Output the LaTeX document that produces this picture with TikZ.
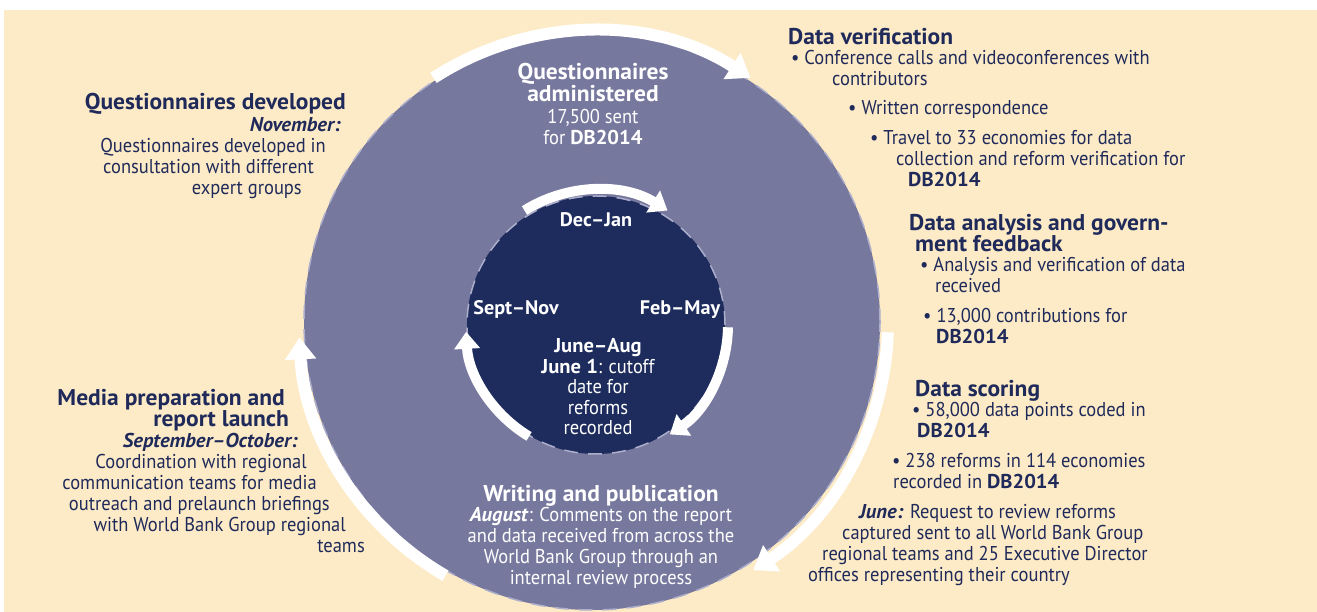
\documentclass[tikz,border=0pt]{standalone}
\usepackage{fontspec}
\setmainfont{PT Sans}[FakeStretch=0.925, BoldFeatures={FakeStretch=1.03}, BoldItalicFeatures={FakeStretch=1.03}]
\usetikzlibrary{arrows.meta}

\definecolor{cream}{RGB}{253,235,199}
\definecolor{ringblue}{RGB}{119,120,158}
\definecolor{coreblue}{RGB}{29,44,92}
\definecolor{inkblue}{RGB}{31,42,90}
\definecolor{rimgray}{RGB}{172,174,204}

% invisible filler at the end of a right-aligned line
\newcommand{\padright}[1]{\rule{#1}{0pt}}

\tikzset{
    head/.style={inner sep=0pt, text=inkblue, font=\bfseries\fontsize{22.8}{21.5}\selectfont},
    body/.style={inner sep=0pt, text=inkblue, font=\fontsize{20}{21}\selectfont},
    month/.style={inner sep=0pt, text=white, font=\fontsize{20}{20.5}\selectfont},
    cycle arrow/.style={white, line width=12pt, -{Triangle[width=30pt,length=22pt]}},
    small arrow/.style={white, line width=10pt, -{Triangle[width=25pt,length=17pt]}},
    rim/.style={rimgray, line width=1.5pt, dash pattern=on 14pt off 10pt},
}

\begin{document}
\begin{tikzpicture}[x=1pt, y=1pt]
    \useasboundingbox (0,0) rectangle (1317,612);
    \fill[white] (0,0) rectangle (1317,612);
    \fill[cream] (4,0) rectangle (1317,602);

    \coordinate (outer) at (592,290);
    \coordinate (inner) at (596,287);

    % the two rings
    \fill[ringblue] (outer) circle[radius=288pt];
    \draw[rim] (outer) circle[radius=288pt];
    \fill[coreblue] (inner) circle[radius=129pt];
    \draw[rim] (inner) circle[radius=129pt];

    % outer cycle
    \draw[cycle arrow] ([shift={(123:291pt)}]outer) arc[start angle=123, end angle=57, radius=291pt];
    \draw[cycle arrow] ([shift={(-2:296pt)}]outer) arc[start angle=-2, end angle=-57, radius=296pt];
    \draw[cycle arrow] ([shift={(240:293pt)}]outer) arc[start angle=240, end angle=183, radius=293pt];

    % inner cycle
    \draw[small arrow] ([shift={(122:135pt)}]inner) arc[start angle=122, end angle=58, radius=135pt];
    \draw[small arrow] ([shift={(-1:132pt)}]inner) arc[start angle=-1, end angle=-56, radius=132pt];
    \draw[small arrow] ([shift={(239:130pt)}]inner) arc[start angle=239, end angle=183, radius=130pt];

    \node[month, anchor=base, font=\bfseries\fontsize{19.6}{20.5}\selectfont] (decjan) at (596,385) {Dec–Jan};
    \node[month, anchor=base, font=\bfseries\fontsize{19.6}{20.5}\selectfont] (septnov) at (516,297) {Sept–Nov};
    \node[month, anchor=base, font=\bfseries\fontsize{19.6}{20.5}\selectfont] (febmay) at (680,297) {Feb–May};
    \node[month, anchor=base, align=center] (juneaug) at (598,177) {\textbf{June–Aug}\\\textbf{June 1}: cutoff\\date for\\reforms\\recorded};

    \node[head, anchor=base east] (qdevhead) at (346,502) {Questionnaires developed};
    \node[body, anchor=base east, align=right] (qdevtext) at (346,417) {\textbf{\textit{November:}}\padright{5pt}\\Questionnaires developed in\padright{20pt}\\consultation with different\padright{32pt}\\expert groups\padright{44pt}};

    \node[head, text=white, anchor=base, align=center, font=\bfseries\fontsize{22.8}{20}\selectfont] (qadmhead) at (593,510) {Questionnaires\\administered};
    \node[body, text=white, anchor=base, align=center] (qadmtext) at (593,467) {17,500 sent\\for \textbf{DB2014}};

    \node[head, anchor=base west] (verhead) at (788,567) {Data verification};
    \node[body, anchor=base west, align=left] (vertext) at (791,425) {\textbullet\ Conference calls and videoconferences with\\\hspace*{41pt}contributors\\[8pt]\hspace*{57pt}\textbullet\ Written correspondence\\[9pt]\hspace*{79pt}\textbullet\ Travel to 33 economies for data\\\hspace*{105pt}collection and reform verification for\\\hspace*{117pt}\textbf{DB2014}};

    \node[head, anchor=base west, align=left] (anahead) at (909,360) {Data analysis and govern-\\\hspace*{6pt}ment feedback};
    \node[body, anchor=base west, align=left] (anatext) at (920,268) {\textbullet\ Analysis and verification of data\\\hspace*{15pt}received\\[9pt]\hspace*{3pt}\textbullet\ 13,000 contributions for\\\hspace*{16pt}\textbf{DB2014}};

    \node[head, anchor=base west] (scorehead) at (915,215) {Data scoring};
    \node[body, anchor=base west, align=left] (scoretext) at (892,123) {\hspace*{20pt}\textbullet\ 58,000 data points coded in\\\hspace*{25pt}\textbf{DB2014}\\[9pt]\textbullet\ 238 reforms in 114 economies\\\hspace*{1pt}recorded in \textbf{DB2014}};
    \node[body, anchor=base west, align=left] (junetext) at (808,30) {\hspace*{51pt}\textbf{\textit{June:}} Request to review reforms\\\hspace*{34pt}captured sent to all World Bank Group\\\hspace*{14pt}regional teams and 25 Executive Director\\offices representing their country};

    \node[head, text=white, anchor=base] (writehead) at (601,110) {Writing and publication};
    \node[body, text=white, anchor=base, align=center] (writetext) at (601,27) {\textbf{\textit{August}}: Comments on the report\\and data received from across the\\World Bank Group through an\\internal review process};

    \node[head, anchor=base east, align=right, font=\bfseries\fontsize{22.8}{20}\selectfont] (mediahead) at (289,185) {Media preparation and\padright{4pt}\\report launch};
    \node[body, anchor=base east, align=right] (mediatext) at (365,59) {\textbf{\textit{September–October:}}\padright{67pt}\\Coordination with regional\padright{58pt}\\communication teams for media\padright{48pt}\\outreach and prelaunch briefings\padright{35pt}\\with World Bank Group regional\padright{19pt}\\teams};
\end{tikzpicture}
\end{document}
